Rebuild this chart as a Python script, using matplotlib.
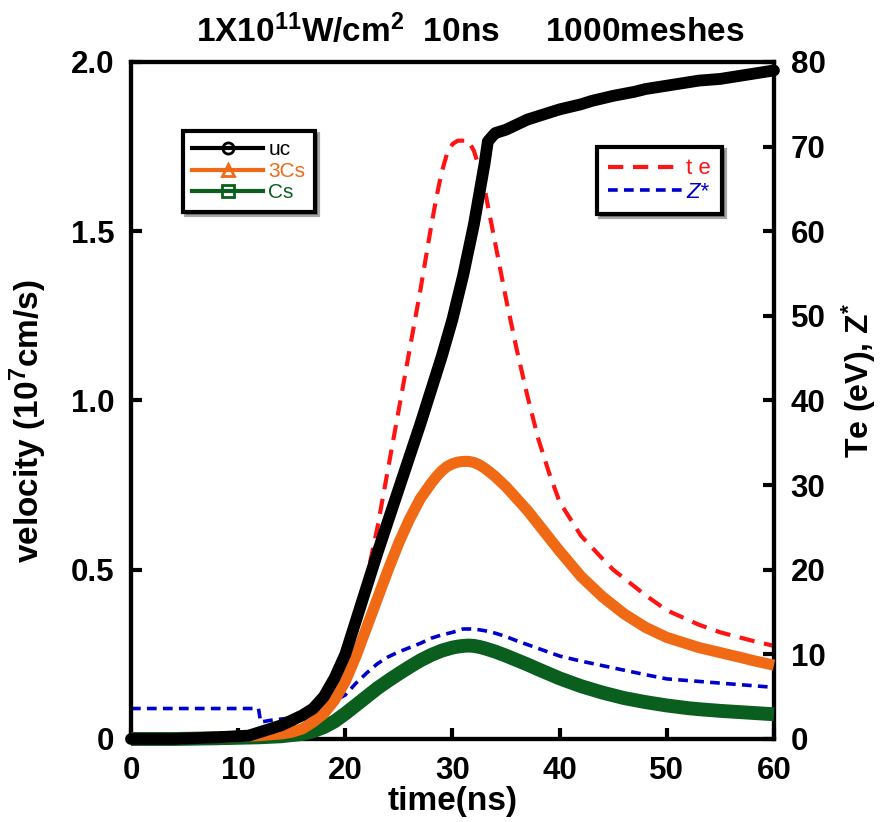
import matplotlib
matplotlib.use("Agg")
import matplotlib.pyplot as plt
from matplotlib.lines import Line2D

# ---------------- data ----------------
# velocity curves (left axis, 10^7 cm/s)
t_uc = [0, 4, 8, 11, 12, 13, 14, 15, 16, 17, 18, 19, 20, 21, 22, 23, 24, 25, 26, 27, 28, 29, 30, 31, 32, 32.5,
        33, 33.3, 33.7, 34, 35, 36, 37, 38, 40, 42, 43, 45, 47, 48, 50, 52, 53, 55, 57, 58, 60]
uc = [0, 0, 0.005, 0.01, 0.02, 0.03, 0.04, 0.055, 0.07, 0.09, 0.125, 0.18, 0.25, 0.35, 0.45, 0.55, 0.645, 0.74,
      0.835, 0.93, 1.03, 1.13, 1.24, 1.37, 1.52, 1.61, 1.70, 1.765, 1.78, 1.79, 1.80, 1.815, 1.83, 1.84, 1.86, 1.875,
      1.885, 1.90, 1.912, 1.92, 1.93, 1.94, 1.945, 1.95, 1.96, 1.965, 1.975]

t_cs3 = [0, 4, 8, 12, 14, 15, 16, 17, 18, 19, 20, 21, 22, 23, 24, 25, 26, 27, 28, 28.5, 29, 29.5, 30, 30.5, 31,
         31.5, 32, 32.5, 33, 33.5, 34, 35, 36, 37, 38, 39, 40, 42, 44, 45, 46, 48, 50, 52, 53, 55, 57, 58, 60]
cs3 = [0, 0, 0.005, 0.01, 0.015, 0.02, 0.03, 0.05, 0.075, 0.115, 0.17, 0.245, 0.33, 0.415, 0.5, 0.58, 0.65, 0.71,
       0.755, 0.775, 0.792, 0.805, 0.813, 0.818, 0.82, 0.82, 0.817, 0.81, 0.80, 0.788, 0.775, 0.745, 0.71, 0.675,
       0.635, 0.595, 0.555, 0.48, 0.42, 0.395, 0.37, 0.33, 0.30, 0.28, 0.27, 0.255, 0.24, 0.232, 0.218]

t_cs = [0, 4, 8, 12, 14, 16, 17, 18, 19, 20, 21, 22, 23, 24, 25, 26, 27, 28, 29, 30, 30.5, 31, 31.5, 32, 32.5, 33,
        34, 35, 36, 37, 38, 40, 42, 44, 45, 46, 48, 50, 52, 53, 55, 57, 58, 60]
cs = [0, 0, 0.002, 0.005, 0.008, 0.015, 0.023, 0.035, 0.052, 0.075, 0.1, 0.125, 0.15, 0.172, 0.193, 0.213, 0.232,
      0.248, 0.261, 0.27, 0.273, 0.275, 0.276, 0.275, 0.272, 0.268, 0.258, 0.246, 0.233, 0.22, 0.206, 0.179, 0.156,
      0.137, 0.129, 0.121, 0.109, 0.099, 0.091, 0.088, 0.083, 0.079, 0.077, 0.073]

# right axis (eV / charge state)
t_te = [0, 8, 12, 15, 18, 20, 22, 23, 24, 25, 26, 27, 28, 28.5, 29, 29.5, 30, 30.5, 31.5, 32, 32.5, 33, 34, 35,
        36, 37, 38, 39, 40, 42, 44, 45, 48, 50, 53, 55, 58, 60]
te = [0, 0.2, 0.8, 1.5, 4, 10, 19, 25, 32, 39, 46, 53, 60.5, 64, 67, 69.2, 70.3, 70.7, 70.7, 69.5, 67.5, 65, 58.5,
      52, 46, 40.5, 35.5, 31.5, 28, 24, 21.3, 20, 17, 15.2, 13.5, 12.6, 11.6, 11.0]

t_z = [0, 4, 8, 11.9, 12.1, 13, 15, 17, 18, 19, 20, 21, 22, 23, 24, 25, 26, 27, 28, 29, 30, 31, 32, 33, 34, 35,
       36, 38, 40, 42, 45, 48, 50, 53, 55, 58, 60]
zstar = [3.6, 3.6, 3.6, 3.6, 2.0, 2.2, 2.5, 3.2, 3.8, 4.5, 5.2, 6.6, 7.8, 8.9, 9.7, 10.3, 10.8, 11.3, 11.9, 12.3,
         12.6, 13.0, 13.0, 12.8, 12.5, 12.1, 11.6, 10.7, 9.8, 9.2, 8.4, 7.6, 7.1, 6.8, 6.6, 6.3, 6.1]

x_ticks = [0, 10, 20, 30, 40, 50, 60]
v_ticks = [0, 0.5, 1.0, 1.5, 2.0]
v_tick_labels = ["0", "0.5", "1.0", "1.5", "2.0"]
r_ticks = [0, 10, 20, 30, 40, 50, 60, 70, 80]

c_uc = "black"
c_3cs = "#F06A16"
c_cs = "#0A5E1E"
c_te = "#FF1414"
c_z = "#0000CC"

plt.rcParams["font.family"] = ["Liberation Sans", "DejaVu Sans"]
plt.rcParams["font.weight"] = "bold"
plt.rcParams["axes.labelweight"] = "bold"
plt.rcParams["mathtext.fontset"] = "custom"
plt.rcParams["mathtext.rm"] = "Liberation Sans:bold"
plt.rcParams["mathtext.default"] = "rm"
plt.rcParams["lines.scale_dashes"] = False

fig = plt.figure(figsize=(8.82, 8.22), dpi=100)
ax = fig.add_axes([0.1485, 0.101, 0.729, 0.8236])
ax2 = ax.twinx()

# right-axis curves (behind)
ax2.plot(t_te, te, color=c_te, lw=3, linestyle=(0, (11, 7)))
ax2.plot(t_z, zstar, color=c_z, lw=2.6, linestyle=(0, (7, 4.5)))

# velocity curves drawn as thick bands (dense markers in the original)
ax.plot(t_cs, cs, color=c_cs, lw=10, solid_capstyle="butt", zorder=3, clip_on=False)
ax.plot(t_cs3, cs3, color=c_3cs, lw=8, solid_capstyle="butt", zorder=4, clip_on=False)
ax.plot(t_uc, uc, color=c_uc, lw=8.5, solid_capstyle="round", solid_joinstyle="round", zorder=5, clip_on=False)
ax.set_zorder(ax2.get_zorder() + 1)
ax.patch.set_visible(False)

ax.set_xlim(0, 60)
ax.set_ylim(0, 2.0)
ax2.set_ylim(0, 80)
ax.set_xticks(x_ticks)
ax.set_yticks(v_ticks)
ax.set_yticklabels(v_tick_labels)
ax2.set_yticks(r_ticks)

for a in (ax, ax2):
    for s in a.spines.values():
        s.set_linewidth(3)
    a.tick_params(direction="in", length=8, width=3, labelsize=22.5, pad=12)

ax.set_xlabel("time(ns)", fontsize=24, labelpad=0)
ax.set_ylabel(r"velocity (10$^7$cm/s)", fontsize=24)
ax.yaxis.set_label_coords(-0.128, 0.47)
ax2.set_ylabel(r"Te (eV), Z$^{*}$", fontsize=23)
ax2.yaxis.set_label_coords(1.102, 0.53)
fig.text(0.533, 0.962, r"1X10$^{11}$W/cm$^2$  10ns     1000meshes", fontsize=24,
         ha="center", va="center", fontweight="bold")

# legends
h1 = [Line2D([], [], color=c_uc, lw=3, marker="o", mfc="none", mec=c_uc, ms=8, mew=2),
      Line2D([], [], color=c_3cs, lw=3, marker="^", mfc="none", mec=c_3cs, ms=8, mew=2),
      Line2D([], [], color=c_cs, lw=3, marker="s", mfc="none", mec=c_cs, ms=8, mew=2)]
leg1 = ax.legend(h1, ["uc", "3Cs", "Cs"], loc="upper left", bbox_to_anchor=(0.081, 0.898),
                 prop={"size": 15, "weight": "normal"}, handlelength=3.4, labelspacing=0.12,
                 handletextpad=0.25, borderpad=0.45, fancybox=False, shadow=True, framealpha=1,
                 labelcolor=[c_uc, c_3cs, c_cs], borderaxespad=0)
leg1.get_frame().set_edgecolor("black")
leg1.get_frame().set_linewidth(3)
ax.add_artist(leg1)

h2 = [Line2D([], [], color=c_te, lw=3, linestyle=(0, (11, 7))),
      Line2D([], [], color=c_z, lw=2.6, linestyle=(0, (7, 4.5)))]
leg2 = ax.legend(h2, ["t e", "Z*"], loc="upper left", bbox_to_anchor=(0.725, 0.874),
                 prop={"size": 16, "weight": "normal"}, handlelength=3.3, labelspacing=0.1,
                 handletextpad=0.2, borderpad=0.5, fancybox=False, shadow=True, framealpha=1,
                 labelcolor=[c_te, c_z], borderaxespad=0)
leg2.get_frame().set_edgecolor("black")
leg2.get_frame().set_linewidth(3)
leg2.get_texts()[1].set_style("italic")

fig.savefig("out.png", dpi=100)
